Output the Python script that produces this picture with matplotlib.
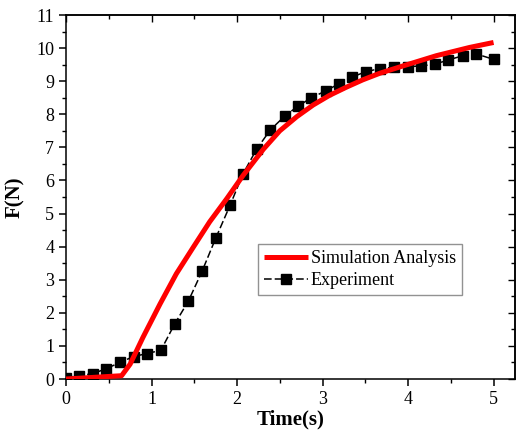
import numpy as np
import matplotlib.pyplot as plt
from matplotlib.ticker import MultipleLocator

# ==============================================================================
# Data
# ==============================================================================

# Simulation curve
sim_time = [0.0, 0.65, 0.75, 0.90, 1.10, 1.29, 1.49, 1.68, 1.88, 2.07,
            2.31, 2.50, 2.70, 2.89, 3.08, 3.28, 3.47, 3.67, 3.94, 4.33,
            4.72, 5.00]
sim_force = [0.0, 0.10, 0.45, 1.26, 2.27, 3.18, 3.99, 4.75, 5.45, 6.15,
             6.95, 7.50, 7.93, 8.28, 8.57, 8.82, 9.04, 9.24, 9.46, 9.77,
             10.02, 10.17]

# Experimental points
exp_time = [0.00, 0.15, 0.31, 0.47, 0.63, 0.79, 0.95, 1.11, 1.27, 1.43,
            1.59, 1.75, 1.92, 2.07, 2.23, 2.39, 2.56, 2.71, 2.87, 3.04,
            3.19, 3.35, 3.51, 3.67, 3.83, 4.00, 4.15, 4.31, 4.47, 4.64,
            4.79, 5.00]
exp_force = [0.04, 0.10, 0.16, 0.31, 0.50, 0.68, 0.77, 0.87, 1.66, 2.35,
             3.25, 4.25, 5.26, 6.20, 6.95, 7.53, 7.95, 8.24, 8.50, 8.71,
             8.92, 9.13, 9.29, 9.38, 9.42, 9.44, 9.46, 9.51, 9.64, 9.77,
             9.83, 9.66]

plt.rcParams['font.family'] = ['Liberation Serif', 'DejaVu Serif']

fig = plt.figure(figsize=(5.17, 4.30), dpi=100)
ax = fig.add_axes([0.1277, 0.1186, 0.8683, 0.8465])

ax.plot(sim_time, sim_force, color='#ff0000', linewidth=3.6,
        solid_capstyle='butt', solid_joinstyle='round',
        label='Simulation Analysis', zorder=3)
ax.plot(exp_time, exp_force, color='black', linewidth=1.1,
        linestyle=(0, (5, 2)), marker='s', markersize=7.8,
        label='Experiment', zorder=2)

ax.set_xlim(0, 5.25)
ax.set_ylim(0, 11)

ax.xaxis.set_major_locator(MultipleLocator(1))
ax.xaxis.set_minor_locator(MultipleLocator(0.5))
ax.yaxis.set_major_locator(MultipleLocator(1))
ax.yaxis.set_minor_locator(MultipleLocator(0.5))
ax.tick_params(which='major', direction='out', length=5, width=1.1, labelsize=13)
ax.tick_params(which='minor', direction='out', length=3, width=1.0)

# mirrored ticks pointing inward on top and right
top = ax.secondary_xaxis('top')
right = ax.secondary_yaxis('right')
for sec, axis in ((top, top.xaxis), (right, right.yaxis)):
    axis.set_major_locator(MultipleLocator(1))
    axis.set_minor_locator(MultipleLocator(0.5))
    sec.tick_params(which='major', direction='in', length=5, width=1.0)
    sec.tick_params(which='minor', direction='in', length=3, width=1.0)
    axis.set_ticklabels([])
    for sp in sec.spines.values():
        sp.set_linewidth(1.1)

for sp in ax.spines.values():
    sp.set_linewidth(1.1)

ax.set_xlabel('Time(s)', fontsize=15, fontweight='bold', labelpad=1)
ax.set_ylabel('F(N)', fontsize=15, fontweight='bold', labelpad=8)

leg = ax.legend(loc='lower left', bbox_to_anchor=(0.428, 0.23),
                fontsize=13, frameon=True, fancybox=False,
                handlelength=2.4, handletextpad=0.15, borderpad=0.35,
                labelspacing=0.25, borderaxespad=0)
leg.get_frame().set_edgecolor('#777777')
leg.get_frame().set_linewidth(1.0)

fig.savefig('out.png', dpi=100)
